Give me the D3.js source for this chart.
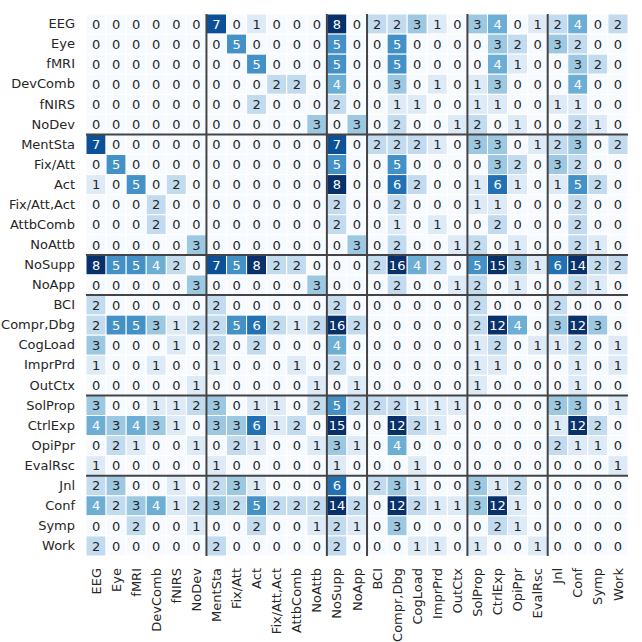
<!DOCTYPE html>
<html>
<head>
<meta charset="utf-8">
<script src="https://cdn.jsdelivr.net/npm/d3@7"></script>
<style>
  html, body { margin: 0; padding: 0; background: #fff; }
  svg { display: block; font-family: "DejaVu Sans", sans-serif; }
</style>
</head>
<body>
<svg id="chart" width="642" height="642"></svg>
<script>
const categories = ['EEG', 'Eye', 'fMRI', 'DevComb', 'fNIRS', 'NoDev', 'MentSta', 'Fix/Att', 'Act',
  'Fix/Att,Act', 'AttbComb', 'NoAttb', 'NoSupp', 'NoApp', 'BCI', 'Compr,Dbg', 'CogLoad', 'ImprPrd',
  'OutCtx', 'SolProp', 'CtrlExp', 'OpiPpr', 'EvalRsc', 'Jnl', 'Conf', 'Symp', 'Work'];

// last category of each group, a dark line is drawn after it
const groupEnds = ['NoDev', 'NoAttb', 'NoApp', 'OutCtx', 'EvalRsc'];

// co-occurrence counts, one row per category
const counts = [
  [0,0,0,0,0,0, 7,0,1,0,0,0, 8,0, 2,2,3,1,0, 3,4,0,1, 2,4,0,2],
  [0,0,0,0,0,0, 0,5,0,0,0,0, 5,0, 0,5,0,0,0, 0,3,2,0, 3,2,0,0],
  [0,0,0,0,0,0, 0,0,5,0,0,0, 5,0, 0,5,0,0,0, 0,4,1,0, 0,3,2,0],
  [0,0,0,0,0,0, 0,0,0,2,2,0, 4,0, 0,3,0,1,0, 1,3,0,0, 0,4,0,0],
  [0,0,0,0,0,0, 0,0,2,0,0,0, 2,0, 0,1,1,0,0, 1,1,0,0, 1,1,0,0],
  [0,0,0,0,0,0, 0,0,0,0,0,3, 0,3, 0,2,0,0,1, 2,0,1,0, 0,2,1,0],
  [7,0,0,0,0,0, 0,0,0,0,0,0, 7,0, 2,2,2,1,0, 3,3,0,1, 2,3,0,2],
  [0,5,0,0,0,0, 0,0,0,0,0,0, 5,0, 0,5,0,0,0, 0,3,2,0, 3,2,0,0],
  [1,0,5,0,2,0, 0,0,0,0,0,0, 8,0, 0,6,2,0,0, 1,6,1,0, 1,5,2,0],
  [0,0,0,2,0,0, 0,0,0,0,0,0, 2,0, 0,2,0,0,0, 1,1,0,0, 0,2,0,0],
  [0,0,0,2,0,0, 0,0,0,0,0,0, 2,0, 0,1,0,1,0, 0,2,0,0, 0,2,0,0],
  [0,0,0,0,0,3, 0,0,0,0,0,0, 0,3, 0,2,0,0,1, 2,0,1,0, 0,2,1,0],
  [8,5,5,4,2,0, 7,5,8,2,2,0, 0,0, 2,16,4,2,0, 5,15,3,1, 6,14,2,2],
  [0,0,0,0,0,3, 0,0,0,0,0,3, 0,0, 0,2,0,0,1, 2,0,1,0, 0,2,1,0],
  [2,0,0,0,0,0, 2,0,0,0,0,0, 2,0, 0,0,0,0,0, 2,0,0,0, 2,0,0,0],
  [2,5,5,3,1,2, 2,5,6,2,1,2, 16,2, 0,0,0,0,0, 2,12,4,0, 3,12,3,0],
  [3,0,0,0,1,0, 2,0,2,0,0,0, 4,0, 0,0,0,0,0, 1,2,0,1, 1,2,0,1],
  [1,0,0,1,0,0, 1,0,0,0,1,0, 2,0, 0,0,0,0,0, 1,1,0,0, 0,1,0,1],
  [0,0,0,0,0,1, 0,0,0,0,0,1, 0,1, 0,0,0,0,0, 1,0,0,0, 0,1,0,0],
  [3,0,0,1,1,2, 3,0,1,1,0,2, 5,2, 2,2,1,1,1, 0,0,0,0, 3,3,0,1],
  [4,3,4,3,1,0, 3,3,6,1,2,0, 15,0, 0,12,2,1,0, 0,0,0,0, 1,12,2,0],
  [0,2,1,0,0,1, 0,2,1,0,0,1, 3,1, 0,4,0,0,0, 0,0,0,0, 2,1,1,0],
  [1,0,0,0,0,0, 1,0,0,0,0,0, 1,0, 0,0,1,0,0, 0,0,0,0, 0,0,0,1],
  [2,3,0,0,1,0, 2,3,1,0,0,0, 6,0, 2,3,1,0,0, 3,1,2,0, 0,0,0,0],
  [4,2,3,4,1,2, 3,2,5,2,2,2, 14,2, 0,12,2,1,1, 3,12,1,0, 0,0,0,0],
  [0,0,2,0,0,1, 0,0,2,0,0,1, 2,1, 0,3,0,0,0, 0,2,1,0, 0,0,0,0],
  [2,0,0,0,0,0, 2,0,0,0,0,0, 2,0, 0,0,1,1,0, 1,0,0,1, 0,0,0,0]
];

const colorMax = 8; // colours saturate above this

const svg = d3.select('#chart');
const margin = { top: 14, right: 14, bottom: 86, left: 86 };
const size = 642 - margin.left - margin.right;

const x = d3.scaleBand().domain(categories).range([0, size]);
const y = d3.scaleBand().domain(categories).range([0, size]);
const color = d3.scaleSequential(d3.interpolateBlues).domain([0, colorMax]).clamp(true);

const cells = [];
counts.forEach((row, i) => row.forEach((v, j) => cells.push({ row: categories[i], col: categories[j], v })));

const g = svg.append('g').attr('transform', `translate(${margin.left},${margin.top})`);

g.selectAll('rect.cell')
  .data(cells)
  .enter()
  .append('rect')
  .attr('class', 'cell')
  .attr('x', d => x(d.col))
  .attr('y', d => y(d.row))
  .attr('width', x.bandwidth())
  .attr('height', y.bandwidth())
  .attr('fill', d => color(d.v))
  .attr('stroke', '#fff')
  .attr('stroke-width', 1);

g.selectAll('text.val')
  .data(cells)
  .enter()
  .append('text')
  .attr('class', 'val')
  .attr('x', d => x(d.col) + x.bandwidth() / 2)
  .attr('y', d => y(d.row) + y.bandwidth() / 2)
  .attr('dy', '0.36em')
  .attr('text-anchor', 'middle')
  .attr('font-size', 13)
  .attr('fill', d => (d.v >= 4 ? '#fff' : '#262626'))
  .text(d => d.v);

// group separators
groupEnds.forEach(c => {
  const p = x(c) + x.bandwidth();
  g.append('line')
    .attr('x1', p).attr('x2', p).attr('y1', 0).attr('y2', size)
    .attr('stroke', '#444').attr('stroke-width', 2);
  const q = y(c) + y.bandwidth();
  g.append('line')
    .attr('x1', 0).attr('x2', size).attr('y1', q).attr('y2', q)
    .attr('stroke', '#444').attr('stroke-width', 2);
});

const yAxis = g.append('g').call(d3.axisLeft(y).tickSize(0).tickPadding(11));
yAxis.select('.domain').remove();
yAxis.selectAll('text').attr('font-size', 13).attr('fill', '#262626').attr('font-family', '"DejaVu Sans", sans-serif');

const xAxis = g.append('g')
  .attr('transform', `translate(0,${size})`)
  .call(d3.axisBottom(x).tickSize(0).tickPadding(0));
xAxis.select('.domain').remove();
xAxis.selectAll('text')
  .attr('font-size', 13)
  .attr('fill', '#262626')
  .attr('font-family', '"DejaVu Sans", sans-serif')
  .attr('text-anchor', 'end')
  .attr('transform', 'rotate(-90)')
  .attr('x', -12)
  .attr('y', 0)
  .attr('dy', '0.35em');
</script>
</body>
</html>
